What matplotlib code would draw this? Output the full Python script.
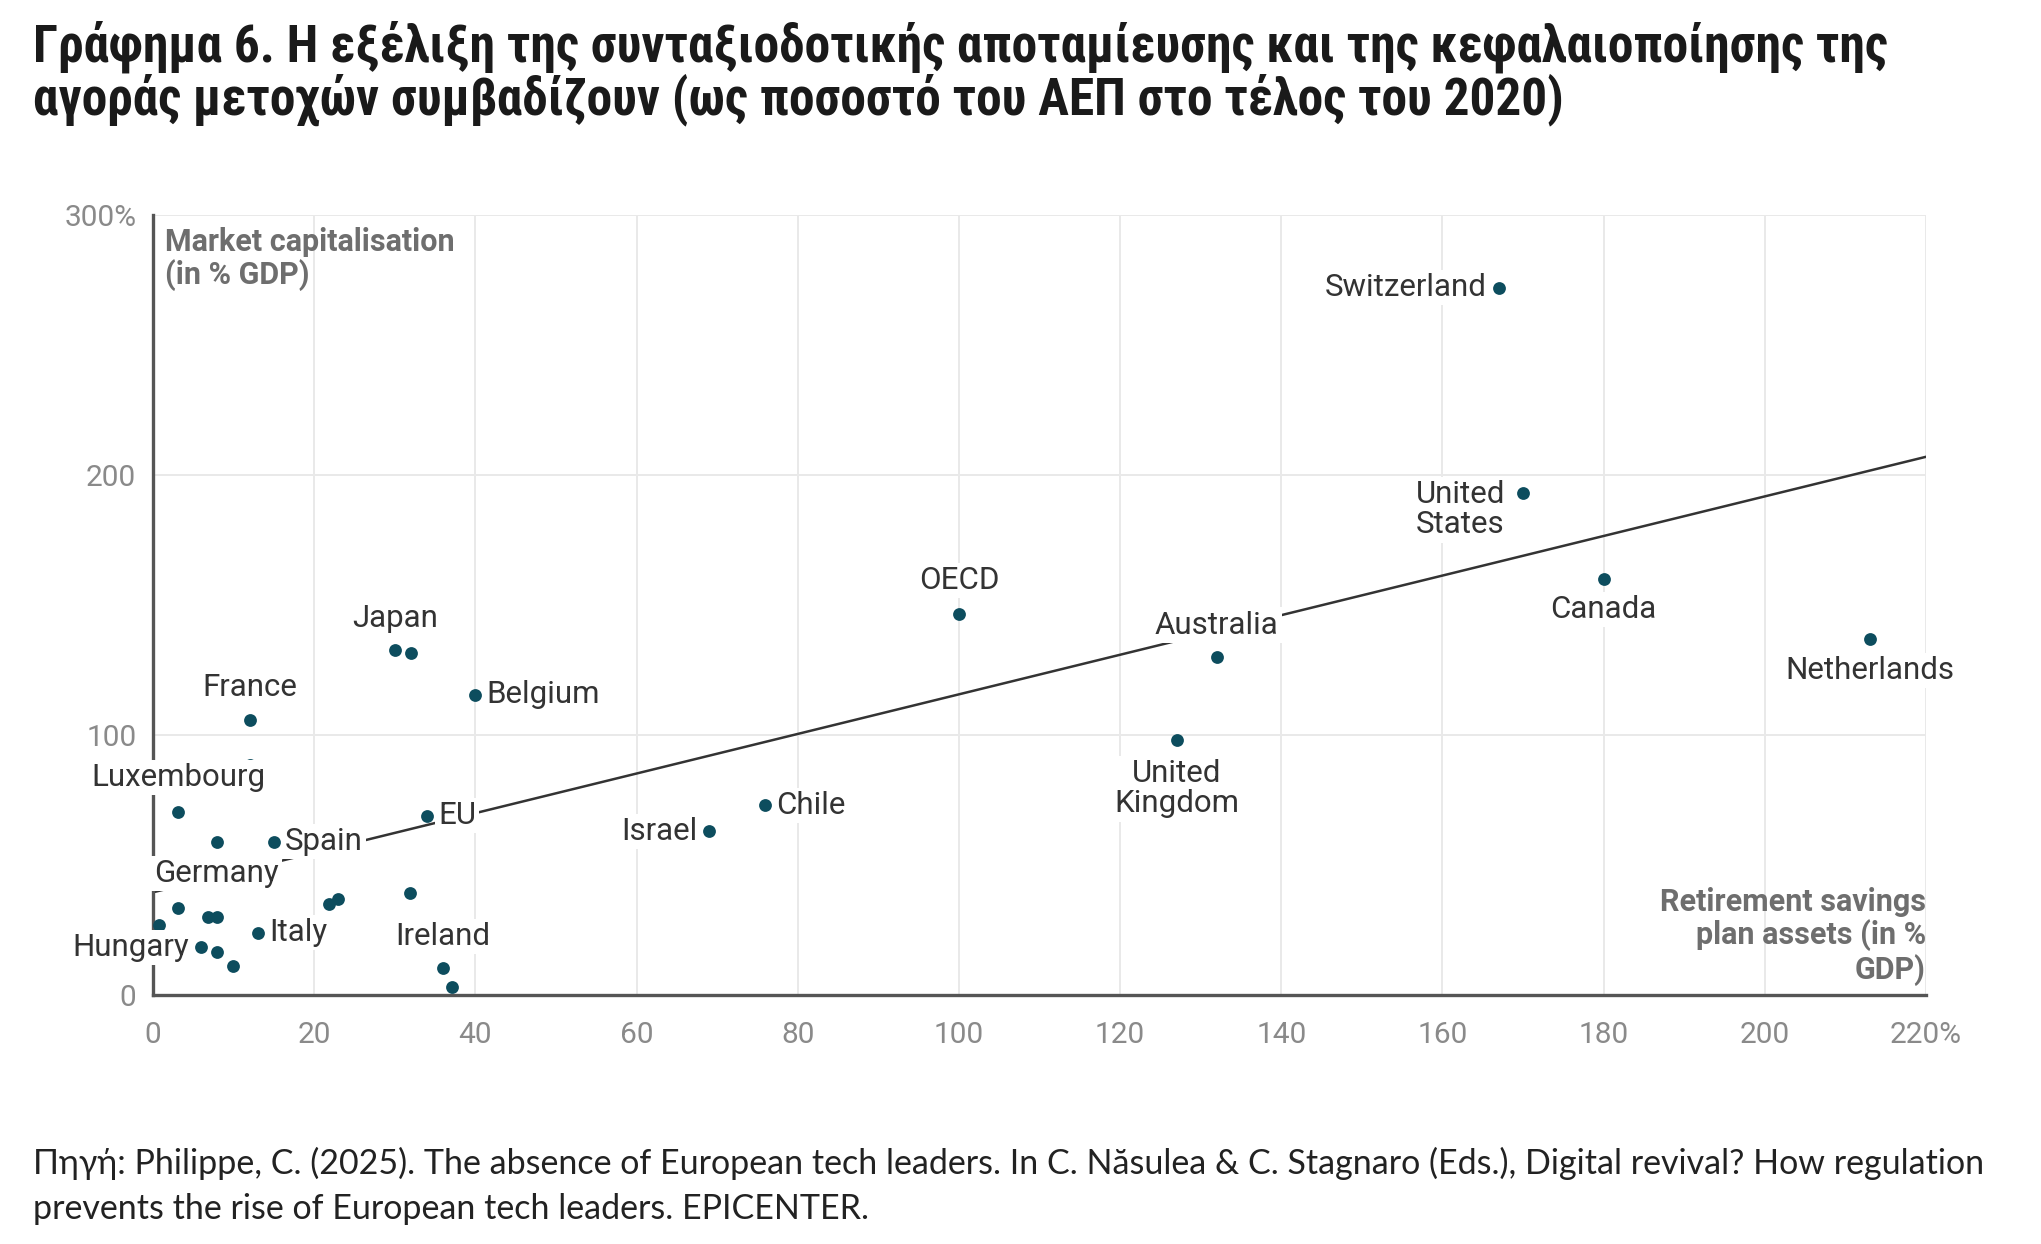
import matplotlib
matplotlib.use("Agg")
import matplotlib.pyplot as plt
import matplotlib.font_manager as fm
from matplotlib.font_manager import FontProperties
import numpy as np

# ---------------- data ----------------
labels = ["Switzerland", "United\nStates", "Canada", "Netherlands", "Australia",
          "United\nKingdom", "OECD", "Chile", "Israel", "Belgium", "Japan",
          "France", "Luxembourg", "EU", "Spain", "Germany", "Italy", "Hungary",
          "Ireland"]
label_x = [167, 170, 180, 213, 132, 127, 100, 76, 69, 40, 30, 12, 3.1, 34, 15, 7.9, 13, 5.9, 36]
label_y = [272, 193, 160, 137, 130, 98, 146.5, 73, 63, 115.5, 132.7, 105.8, 70.2, 69, 59, 59, 24, 18.3, 10.2]

other_x = [32, 12, 31.9, 21.9, 22.9, 3.1, 6.8, 7.9, 0.8, 7.9, 9.9, 37.1]
other_y = [131.6, 88.5, 39.2, 35, 36.9, 33.3, 30.1, 30.1, 26.9, 16.4, 11, 2.9]

trend_x = [0, 220]
trend_y = [39.5, 207]

x_ticks = [0, 20, 40, 60, 80, 100, 120, 140, 160, 180, 200, 220]
x_ticklabels = ["0", "20", "40", "60", "80", "100", "120", "140", "160", "180", "200", "220%"]
y_ticks = [0, 100, 200, 300]
y_ticklabels = ["0", "100", "200", "300%"]

title1 = "Γράφημα 6. Η εξέλιξη της συνταξιοδοτικής αποταμίευσης και της κεφαλαιοποίησης της"
title2 = "αγοράς μετοχών συμβαδίζουν (ως ποσοστό του ΑΕΠ στο τέλος του 2020)"
y_title = "Market capitalisation\n(in % GDP)"
x_title = "Retirement savings\nplan assets (in %\nGDP)"
source1 = "Πηγή: Philippe, C. (2025). The absence of European tech leaders. In C. Năsulea & C. Stagnaro (Eds.), Digital revival? How regulation"
source2 = "prevents the rise of European tech leaders. EPICENTER."

# ---------------- style ----------------
W, H, DPI = 2041, 1244, 100
fig = plt.figure(figsize=(W / DPI, H / DPI), dpi=DPI)
fig.patch.set_facecolor("white")

plt.rcParams["font.family"] = ["Roboto", "DejaVu Sans"]

ax = fig.add_axes([153 / W, 1 - 995 / H, (1926 - 153) / W, (995 - 215) / H])
ax.set_xlim(0, 220)
ax.set_ylim(0, 300)
ax.set_facecolor("white")

for s in ["top", "right"]:
    ax.spines[s].set_visible(False)
for s in ["left", "bottom"]:
    ax.spines[s].set_color("#555555")
    ax.spines[s].set_linewidth(2.4)
    ax.spines[s].set_zorder(2.5)

ax.set_xticks(x_ticks)
ax.set_xticklabels(x_ticklabels)
ax.set_yticks(y_ticks)
ax.set_yticklabels(y_ticklabels)
ax.tick_params(axis="both", length=0, labelsize=21.5, labelcolor="#8a8a8a")
ax.tick_params(axis="x", pad=19)
ax.tick_params(axis="y", pad=12)
ax.grid(True, color="#e9e9e9", linewidth=1.4, zorder=0)
ax.set_axisbelow(True)

dot_color = "#0d4d5e"
ax.scatter(other_x, other_y, s=85, color=dot_color, zorder=3, linewidths=0, clip_on=False)
ax.scatter(label_x, label_y, s=85, color=dot_color, zorder=3, linewidths=0, clip_on=False)

ax.plot(trend_x, trend_y, color="#333333", linewidth=1.8, zorder=2)

# label placement (offset in points, alignment)
placement = {
    "Switzerland": ((-9, 0), "right", "center"),
    "United\nStates": ((-45, -12), "center", "center"),
    "Canada": ((0, -22), "center", "center"),
    "Netherlands": ((0, -23), "center", "center"),
    "Australia": ((0, 23), "center", "center"),
    "United\nKingdom": ((0, -35), "center", "center"),
    "OECD": ((0, 24), "center", "center"),
    "Chile": ((8, 0), "left", "center"),
    "Israel": ((-8, 0), "right", "center"),
    "Belgium": ((8, 0), "left", "center"),
    "Japan": ((0, 23), "center", "center"),
    "France": ((0, 23), "center", "center"),
    "Luxembourg": ((0, 25), "center", "center"),
    "EU": ((8, 0), "left", "center"),
    "Spain": ((8, 0), "left", "center"),
    "Germany": ((0, -23), "center", "center"),
    "Italy": ((8, 0), "left", "center"),
    "Hungary": ((-8, 0), "right", "center"),
    "Ireland": ((0, 23), "center", "center"),
}
for name, x, y in zip(labels, label_x, label_y):
    off, ha, va = placement[name]
    ax.annotate(name, (x, y), xytext=off, textcoords="offset points",
                ha=ha, va=va, fontsize=22.5, color="#333333", zorder=5,
                multialignment="center", linespacing=1.05,
                annotation_clip=False,
                bbox=dict(boxstyle="square,pad=0.1", fc="white", ec="none"))

ax.text(0.007, 0.985, y_title, transform=ax.transAxes, ha="left", va="top",
        fontsize=22, fontweight="bold", color="#6e6e6e", linespacing=1.1, zorder=5)
ax.text(1.0, 0.012, x_title, transform=ax.transAxes, ha="right", va="bottom",
        fontsize=22, fontweight="bold", color="#6e6e6e", linespacing=1.1,
        multialignment="right", zorder=5)

# ---- title font: prefer a condensed bold face ----
title_fp = None
prefs = ["opensans", "roboto", "noto", "liberation", "dejavu"]
cands = []
for f in fm.fontManager.ttflist:
    fn = f.fname.lower().replace(" ", "").replace("_", "").replace("-", "")
    if "condensed" in fn and "bold" in fn and "italic" not in fn and "oblique" not in fn \
            and "semi" not in fn and "extra" not in fn:
        rank = next((i for i, p in enumerate(prefs) if p in fn), len(prefs))
        cands.append((rank, f.fname))
if cands:
    cands.sort()
    title_fp = FontProperties(fname=cands[0][1])
else:
    title_fp = FontProperties(family=["Roboto", "DejaVu Sans"], weight="bold")

t1 = fig.text(33 / W, 1 - 47 / H, title1, ha="left", va="center", color="#1a1a1a",
              fontproperties=title_fp, fontsize=30)
t2 = fig.text(33 / W, 1 - 100 / H, title2, ha="left", va="center", color="#1a1a1a",
              fontproperties=title_fp, fontsize=30)

s1 = fig.text(33 / W, 1 - 1163 / H, source1, ha="left", va="center", color="#222222",
              fontsize=20, family=["Lato", "Noto Sans", "DejaVu Sans"], fontweight="normal")
s2 = fig.text(33 / W, 1 - 1209 / H, source2, ha="left", va="center", color="#222222",
              fontsize=20, family=["Lato", "Noto Sans", "DejaVu Sans"], fontweight="normal")

fig.canvas.draw()
r = fig.canvas.get_renderer()


def fit(objs, target):
    w = objs[0].get_window_extent(r).width
    fs = objs[0].get_fontsize() * target / w
    for o in objs:
        o.set_fontsize(fs)


fit([t1, t2], 1887 - 33)
fit([s1, s2], 1985 - 33)

fig.savefig("out.png", dpi=DPI, facecolor="white")
